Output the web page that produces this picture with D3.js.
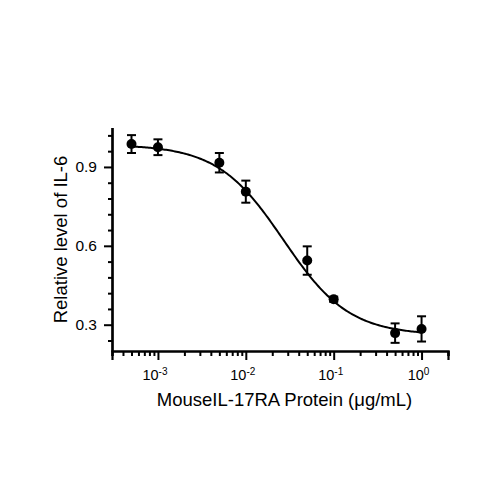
<!DOCTYPE html>
<html>
<head>
<meta charset="utf-8">
<script src="https://cdn.jsdelivr.net/npm/d3@7"></script>
<style>
  body { margin: 0; background: #fff; }
  text { font-family: "Liberation Sans", Arial, sans-serif; fill: #000; }
</style>
</head>
<body>
<div class="chart"></div>
<script>
// Data
var conc = [0.0005, 0.001, 0.005, 0.01, 0.05, 0.1, 0.5, 1];
var level = [0.987, 0.975, 0.916, 0.806, 0.544, 0.397, 0.268, 0.284];
var err = [0.034, 0.030, 0.037, 0.042, 0.054, 0.010, 0.037, 0.048];

var xTickVals = [0.001, 0.01, 0.1, 1];
var xTickExp = ["-3", "-2", "-1", "0"];
var yTickVals = [0.3, 0.6, 0.9];

// 4PL fit parameters (bottom, top, IC50, hill)
var fitBottom = 0.26, fitTop = 0.985, fitIC50 = 0.0268, fitHill = 1.16;

// Configuration
var width = 500;
var height = 500;

var svg = d3.select(".chart").append("svg")
    .attr("width", width)
    .attr("height", height);

var x = d3.scaleLog()
    .domain([0.0003, 2])
    .range([112, 448]);

var y = d3.scaleLinear()
    .domain([0.2, 1.05])
    .range([351, 127.5]);

// minor ticks for the log axis
var xMinor = [];
for (var e = -4; e <= 0; e++) {
    for (var k = 2; k <= 9; k++) {
        var v = k * Math.pow(10, e);
        if (v >= 0.0003 && v <= 2) xMinor.push(v);
    }
}
var yMinor = d3.range(0, 15).map(function(i) { return +(0.24 + i * 0.06).toFixed(2); })
    .filter(function(v) { return yTickVals.indexOf(v) < 0 && v <= 1.05; });

// x axis
var gx = svg.append("g").attr("transform", "translate(0," + y(0.2) + ")");
gx.call(d3.axisBottom(x).tickValues(xMinor).tickSize(5).tickFormat(""));
gx.call(g => g.append("g").call(d3.axisBottom(x).tickValues(xTickVals).tickSize(9).tickFormat("")));
gx.selectAll("path.domain").attr("stroke-width", 2.2);
gx.selectAll("line").attr("stroke-width", 2);

// y axis
var gy = svg.append("g").attr("transform", "translate(" + x(0.0003) + ",0)");
gy.call(d3.axisLeft(y).tickValues(yMinor).tickSize(4).tickFormat("").tickSizeOuter(0));
gy.call(g => g.append("g").call(d3.axisLeft(y).tickValues(yTickVals).tickSize(8).tickFormat("").tickSizeOuter(0)));
gy.selectAll("path.domain").attr("stroke-width", 2.2);
gy.selectAll("line").attr("stroke-width", 2);

// x tick labels with superscript
var xl = svg.selectAll("text.xt")
    .data(xTickVals)
    .enter().append("text")
    .attr("class", "xt")
    .attr("x", function(d) { return x(d) - 3; })
    .attr("y", 380)
    .attr("text-anchor", "middle")
    .style("font-size", "14.5px");
xl.append("tspan").text("10");
xl.append("tspan")
    .attr("dy", -5.5)
    .style("font-size", "10px")
    .text(function(d, i) { return xTickExp[i]; });

// y tick labels
svg.selectAll("text.yt")
    .data(yTickVals)
    .enter().append("text")
    .attr("class", "yt")
    .attr("x", 97)
    .attr("y", function(d) { return y(d) + 5.5; })
    .attr("text-anchor", "end")
    .style("font-size", "15.5px")
    .text(function(d) { return d.toFixed(1); });

// axis titles
svg.append("text")
    .attr("x", 284.5)
    .attr("y", 406)
    .attr("text-anchor", "middle")
    .style("font-size", "18.5px")
    .text("MouseIL-17RA Protein (μg/mL)");

svg.append("text")
    .attr("transform", "translate(67,239.5) rotate(-90)")
    .attr("text-anchor", "middle")
    .style("font-size", "18.5px")
    .text("Relative level of IL-6");

// fitted curve
var curveX = d3.range(0, 201).map(function(i) {
    return Math.pow(10, Math.log10(conc[0]) + i * (Math.log10(conc[conc.length - 1]) - Math.log10(conc[0])) / 200);
});
var line = d3.line()
    .x(function(d) { return x(d); })
    .y(function(d) { return y(fitBottom + (fitTop - fitBottom) / (1 + Math.pow(d / fitIC50, fitHill))); });
svg.append("path")
    .datum(curveX)
    .attr("fill", "none")
    .attr("stroke", "#000")
    .attr("stroke-width", 2)
    .attr("d", line);

// error bars
var eb = svg.selectAll("g.eb")
    .data(conc)
    .enter().append("g")
    .attr("class", "eb")
    .attr("stroke", "#000")
    .attr("stroke-width", 2);
eb.append("line")
    .attr("x1", function(d) { return x(d); })
    .attr("x2", function(d) { return x(d); })
    .attr("y1", function(d, i) { return y(level[i] + err[i]); })
    .attr("y2", function(d, i) { return y(level[i] - err[i]); });
eb.append("line")
    .attr("x1", function(d) { return x(d) - 4.5; })
    .attr("x2", function(d) { return x(d) + 4.5; })
    .attr("y1", function(d, i) { return y(level[i] + err[i]); })
    .attr("y2", function(d, i) { return y(level[i] + err[i]); });
eb.append("line")
    .attr("x1", function(d) { return x(d) - 4.5; })
    .attr("x2", function(d) { return x(d) + 4.5; })
    .attr("y1", function(d, i) { return y(level[i] - err[i]); })
    .attr("y2", function(d, i) { return y(level[i] - err[i]); });

// points
svg.selectAll("circle.pt")
    .data(conc)
    .enter().append("circle")
    .attr("class", "pt")
    .attr("cx", function(d) { return x(d); })
    .attr("cy", function(d, i) { return y(level[i]); })
    .attr("r", 5)
    .attr("fill", "#000");
</script>
</body>
</html>
